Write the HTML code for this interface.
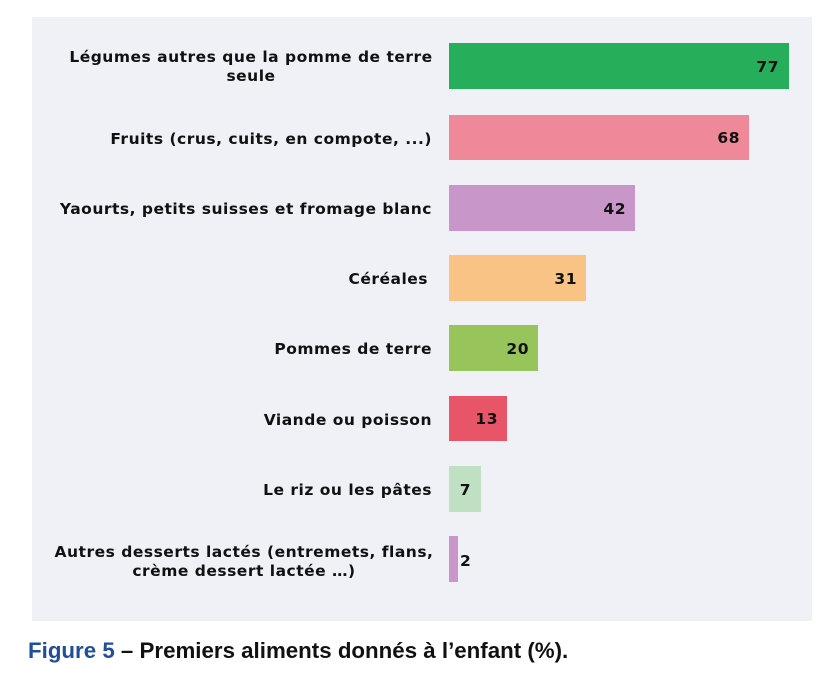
<!DOCTYPE html>
<html><head><meta charset="utf-8"><style>
body{margin:0;background:#fff;width:832px;height:677px;overflow:hidden}
svg text{font-family:"DejaVu Sans",sans-serif;font-weight:bold;font-size:15.5px;fill:#111;letter-spacing:0.5px}
</style></head><body>
<svg width="832" height="677" xmlns="http://www.w3.org/2000/svg">
<rect x="32" y="17" width="780" height="604" fill="#f0f1f7"/>
<g>
<rect x="449" y="43" width="340" height="46" fill="#27ae5b"/>
<rect x="449" y="115" width="300" height="45" fill="#ef8898"/>
<rect x="449" y="185" width="186" height="46" fill="#c896c8"/>
<rect x="449" y="255" width="137" height="46" fill="#f8c384"/>
<rect x="449" y="325" width="89" height="46" fill="#98c45c"/>
<rect x="449" y="396" width="58" height="45" fill="#e85468"/>
<rect x="449" y="466" width="32" height="46" fill="#c0e0c4"/>
<rect x="449" y="536" width="9" height="46" fill="#c896c8"/>
</g>
<g text-anchor="end">
<text x="779" y="72">77</text>
<text x="740" y="143">68</text>
<text x="626" y="214">42</text>
<text x="577" y="284">31</text>
<text x="529" y="354">20</text>
<text x="498" y="424">13</text>
<text x="471" y="495">7</text>
</g>
<text x="460" y="566">2</text>
<g text-anchor="middle">
<text x="251" y="62">Légumes autres que la pomme de terre</text>
<text x="251" y="81">seule</text>
<text x="244" y="557">Autres desserts lactés (entremets, flans,</text>
<text x="244" y="576">crème dessert lactée …)</text>
</g>
<g text-anchor="end">
<text x="432" y="144">Fruits (crus, cuits, en compote, ...)</text>
<text x="432" y="214">Yaourts, petits suisses et fromage blanc</text>
<text x="428" y="284">Céréales</text>
<text x="432" y="354">Pommes de terre</text>
<text x="432" y="425">Viande ou poisson</text>
<text x="432" y="495">Le riz ou les pâtes</text>
</g>
<text x="28" y="658" style="font-family:'Liberation Sans',sans-serif;font-size:22.3px;font-weight:bold;fill:#1f4e9a;letter-spacing:0">Figure 5 <tspan style="fill:#111">– Premiers aliments donnés à l’enfant (%).</tspan></text>
</svg>
</body></html>
